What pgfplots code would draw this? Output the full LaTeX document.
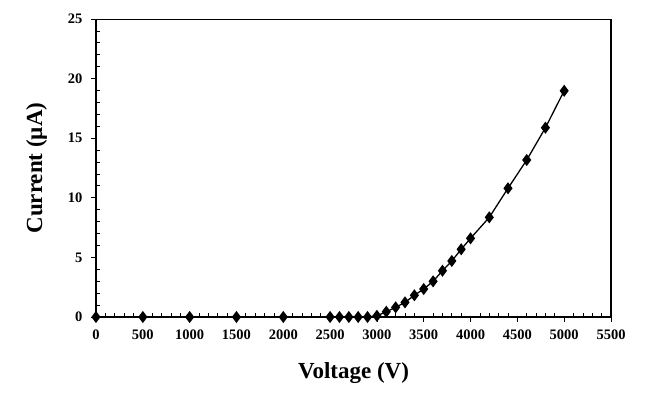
\documentclass[border=0pt]{standalone}
\usepackage{fontspec}
\setmainfont{Liberation Serif}
\usepackage{pgfplots}
\pgfplotsset{compat=1.18}

\begin{document}
\begin{tikzpicture}
\begin{axis}[
  scale only axis, width=515pt, height=298pt,
  xmin=0, xmax=5500, ymin=0, ymax=25,
  axis x line*=bottom, axis y line*=left,
  axis line style={line width=1.8pt},
  xtick={0,500,...,5500}, ytick={0,5,...,25},
  minor x tick num=4, minor y tick num=4,
  tick align=inside,
  major tick length=-5pt, minor tick length=4pt,
  tick style={black, line width=0.8pt},
  xticklabel style={yshift=-9pt},
  yticklabel style={xshift=-10pt},
  tick label style={font=\fontsize{14.5}{16}\selectfont\bfseries},
  /pgf/number format/assume math mode=true,
  /pgf/number format/1000 sep={},
  xlabel={Voltage (V)}, ylabel={Current (\textmu A)},
  label style={font=\fontsize{23}{26}\selectfont\bfseries},
  xlabel style={yshift=-16pt},
  ylabel style={yshift=14pt},
  clip=false,
]
\addplot[black, line width=1.3pt, mark=diamond*, mark size=5pt] coordinates {
  (0,0) (500,0) (1000,0) (1500,0) (2000,0) (2500,0) (2600,0) (2700,0)
  (2800,0) (2900,0) (3000,0.1) (3100,0.44) (3200,0.81) (3300,1.23)
  (3400,1.82) (3500,2.35) (3600,2.99) (3700,3.88) (3800,4.70)
  (3900,5.68) (4000,6.60) (4200,8.36) (4400,10.8) (4600,13.17)
  (4800,15.88) (5000,18.98)
};
\draw[line width=1.8pt] (rel axis cs:1,0) -- (rel axis cs:1,1);
\draw[line width=0.9pt] (rel axis cs:0,1) -- (rel axis cs:1,1);
\end{axis}
\pgfresetboundingbox
\path (-96pt,-87pt) rectangle (570pt,317pt);
\end{tikzpicture}
\end{document}
